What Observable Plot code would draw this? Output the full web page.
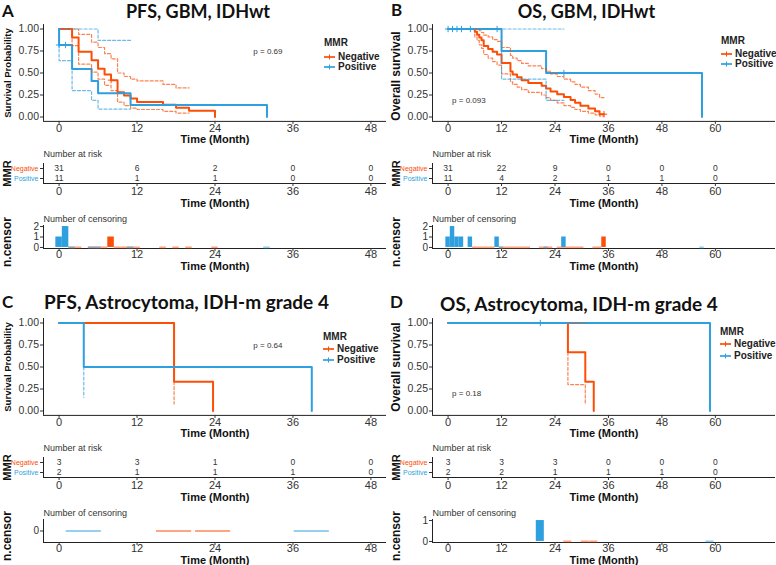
<!DOCTYPE html>
<html><head><meta charset="utf-8">
<script src="https://cdn.jsdelivr.net/npm/d3@7"></script>
<script src="https://cdn.jsdelivr.net/npm/@observablehq/plot@0.6"></script>
<style>
body{margin:0;background:#fff;}
#root{position:relative;width:776px;height:565px;overflow:hidden;background:#fff;font-family:"Liberation Sans",Arial,sans-serif;}
#root svg{position:absolute;overflow:visible;}
</style></head>
<body><div id="root"></div>
<script>
// ---------------- DATA ----------------
const groups = ["Negative", "Positive"];
const groupColors = ["#FC4E07", "#2E9FDF"];
const panelLetters = ["A", "B", "C", "D"];
const panelTitles = ["PFS, GBM, IDHwt", "OS, GBM, IDHwt", "PFS, Astrocytoma, IDH-m grade 4", "OS, Astrocytoma, IDH-m grade 4"];
const yAxisTitles = ["Survival Probability", "Overall survival", "Survival Probability", "Overall survival"];
const pValueLabels = ["p = 0.69", "p = 0.093", "p = 0.64", "p = 0.18"];
const legendTitle = "MMR";
const xAxisTitle = "Time (Month)";
const riskTitle = "Number at risk";
const censorTitle = "Number of censoring";
const censorAxisTitle = "n.censor";
const survTicks = [0, 0.25, 0.5, 0.75, 1];

const timeLimitsPFS = [0, 48];
const timeLimitsOS = [0, 70];
const timeTicksPFS = [0, 12, 24, 36, 48];
const timeTicksOS = [0, 12, 24, 36, 48, 60];

// Panel A: PFS, GBM, IDHwt
const survA_neg_time = [0, 2, 3, 5, 6, 7, 8, 9, 10, 11, 12, 16, 18, 20, 24];
const survA_neg_surv = [1, 0.903, 0.742, 0.645, 0.548, 0.484, 0.419, 0.28, 0.245, 0.21, 0.17, 0.14, 0.105, 0.07, 0];
const survA_neg_upper_time = [2, 3, 5, 6, 7, 8, 9, 10, 11, 12, 16, 18, 20];
const survA_neg_upper = [1, 0.94, 0.85, 0.79, 0.72, 0.66, 0.50, 0.46, 0.43, 0.41, 0.37, 0.33, 0.33];
const survA_neg_lower_time = [2, 2, 3, 5, 6, 7, 8, 9, 10, 11, 12, 16, 18, 20];
const survA_neg_lower = [1, 0.81, 0.60, 0.51, 0.43, 0.36, 0.30, 0.17, 0.13, 0.10, 0.085, 0.065, 0.045, 0.045];
const survA_pos_time = [0, 0, 2, 5, 6, 11, 32];
const survA_pos_surv = [1, 0.818, 0.545, 0.41, 0.27, 0.136, 0];
const survA_pos_upper_time = [0, 6, 11];
const survA_pos_upper = [1, 0.87, 0.87];
const survA_pos_lower_time = [0, 0, 2, 5, 6, 11];
const survA_pos_lower = [1, 0.64, 0.30, 0.19, 0.09, 0.09];
const riskA_time = [0, 12, 24, 36, 48];
const riskA_neg = [31, 6, 2, 0, 0];
const riskA_pos = [11, 1, 1, 0, 0];
const censorA_neg_time = [2, 3, 5, 6, 7, 8, 9, 10, 11, 12, 16, 18, 20, 24];
const censorA_neg_n = [0, 0, 0, 0, 0, 1, 0, 0, 0, 0, 0, 0, 0, 0];
const censorA_pos_time = [0, 1, 2, 5, 6, 11, 32];
const censorA_pos_n = [1, 2, 0, 0, 0, 0, 0];

// Panel B: OS, GBM, IDHwt
const survB_neg_time = [0, 6, 6.5, 7, 7.5, 8, 9, 10, 11, 12, 14, 14.5, 15.5, 16.5, 18, 21, 22, 23, 24.5, 26, 27.5, 28.5, 29.7, 31.5, 33, 34, 35];
const survB_neg_surv = [1, 0.968, 0.935, 0.903, 0.871, 0.806, 0.774, 0.742, 0.71, 0.613, 0.516, 0.484, 0.452, 0.419, 0.387, 0.355, 0.323, 0.29, 0.258, 0.226, 0.194, 0.161, 0.129, 0.097, 0.065, 0.032, 0.032];
const survB_neg_upper_time = [6, 6.5, 7, 7.5, 8, 9, 10, 11, 12, 14, 14.5, 15.5, 16.5, 18, 21, 22, 23, 24.5, 26, 27.5, 28.5, 29.7, 31.5, 33, 34, 35];
const survB_neg_upper = [1, 1, 0.98, 0.96, 0.93, 0.91, 0.88, 0.86, 0.79, 0.70, 0.67, 0.64, 0.61, 0.58, 0.55, 0.52, 0.49, 0.46, 0.43, 0.40, 0.37, 0.34, 0.30, 0.26, 0.22, 0.22];
const survB_neg_lower_time = [6, 6, 6.5, 7, 7.5, 8, 9, 10, 11, 12, 14, 14.5, 15.5, 16.5, 18, 21, 22, 23, 24.5, 26, 27.5, 28.5, 29.7, 31.5, 33, 34, 35];
const survB_neg_lower = [1, 0.91, 0.87, 0.82, 0.78, 0.71, 0.67, 0.63, 0.59, 0.49, 0.40, 0.37, 0.34, 0.31, 0.28, 0.25, 0.22, 0.19, 0.16, 0.13, 0.11, 0.085, 0.065, 0.045, 0.025, 0.01, 0.01];
const survB_pos_time = [0, 12, 22, 57];
const survB_pos_surv = [1, 0.75, 0.5, 0];
const survB_pos_upper_time = [0, 26];
const survB_pos_upper = [1, 1];
const survB_pos_lower_time = [0, 12, 22, 26];
const survB_pos_lower = [1, 0.43, 0.19, 0.19];
const riskB_time = [0, 12, 24, 36, 48, 60];
const riskB_neg = [31, 22, 9, 0, 0, 0];
const riskB_pos = [11, 4, 2, 1, 1, 0];
const censorB_neg_time = [6, 7, 8, 9, 10, 12, 13, 14, 15, 16, 17, 18, 21, 22, 23, 25, 26, 27, 28, 29, 30, 33, 34, 35];
const censorB_neg_n = [0, 0, 0, 0, 0, 0, 0, 0, 0, 0, 0, 0, 0, 0, 0, 0, 0, 0, 0, 0, 0, 0, 0, 1];
const censorB_pos_time = [0, 1, 2, 3, 5, 11, 12, 22, 26, 57];
const censorB_pos_n = [1, 2, 1, 1, 1, 1, 0, 0, 1, 0];

// Panel C: PFS, Astrocytoma, IDH-m grade 4
const survC_neg_time = [0, 17.7, 23.7];
const survC_neg_surv = [1, 0.333, 0];
const survC_neg_upper_time = [];
const survC_neg_upper = [];
const survC_neg_lower_time = [17.7, 17.7];
const survC_neg_lower = [0.333, 0.08];
const survC_pos_time = [0, 3.8, 38.9];
const survC_pos_surv = [1, 0.5, 0];
const survC_pos_upper_time = [];
const survC_pos_upper = [];
const survC_pos_lower_time = [3.8, 3.8];
const survC_pos_lower = [0.5, 0.155];
const riskC_time = [0, 12, 24, 36, 48];
const riskC_neg = [3, 3, 1, 0, 0];
const riskC_pos = [2, 1, 1, 1, 0];
const censorC_neg_time = [17.7, 23.7];
const censorC_neg_n = [0, 0];
const censorC_pos_time = [3.8, 38.9];
const censorC_pos_n = [0, 0];

// Panel D: OS, Astrocytoma, IDH-m grade 4
const survD_neg_time = [0, 26.9, 30.8, 32.7];
const survD_neg_surv = [1, 0.667, 0.333, 0];
const survD_neg_upper_time = [26.9, 30.8];
const survD_neg_upper = [1, 1];
const survD_neg_lower_time = [26.9, 26.9, 30.8, 30.8];
const survD_neg_lower = [0.667, 0.30, 0.30, 0.07];
const survD_pos_time = [0, 58.8];
const survD_pos_surv = [1, 0];
const survD_pos_upper_time = [];
const survD_pos_upper = [];
const survD_pos_lower_time = [];
const survD_pos_lower = [];
const riskD_time = [0, 12, 24, 36, 48, 60];
const riskD_neg = [3, 3, 3, 0, 0, 0];
const riskD_pos = [2, 2, 1, 1, 1, 0];
const censorD_neg_time = [26.9, 30.8, 32.7];
const censorD_neg_n = [0, 0, 0];
const censorD_pos_time = [20.7, 58.8];
const censorD_pos_n = [1, 0];

// ---------------- LAYOUT ----------------
const FONT = '"Liberation Sans", Arial, sans-serif';
const panels = [
  {i: 0, ox: 0, oy: 0, limits: timeLimitsPFS, ticks: timeTicksPFS,
   neg: {time: survA_neg_time, surv: survA_neg_surv, ut: survA_neg_upper_time, u: survA_neg_upper, lt: survA_neg_lower_time, l: survA_neg_lower, ct: censorA_neg_time, cn: censorA_neg_n, risk: riskA_neg},
   pos: {time: survA_pos_time, surv: survA_pos_surv, ut: survA_pos_upper_time, u: survA_pos_upper, lt: survA_pos_lower_time, l: survA_pos_lower, ct: censorA_pos_time, cn: censorA_pos_n, risk: riskA_pos},
   riskTime: riskA_time, cDomain: [-0.1, 2.1], cTicks: [0, 1, 2], barW: 1,
   pAt: [29.9, 0.74], title: {x: 198, y: 10.5, size: 18}, letter: {x: 8, y: 9.5},
   legend: {x: 324, y: [43, 56.5, 67]}, yTitleSize: 9.6, yTitleDy: 0},
  {i: 1, ox: 389, oy: 0, limits: timeLimitsOS, ticks: timeTicksOS,
   neg: {time: survB_neg_time, surv: survB_neg_surv, ut: survB_neg_upper_time, u: survB_neg_upper, lt: survB_neg_lower_time, l: survB_neg_lower, ct: censorB_neg_time, cn: censorB_neg_n, risk: riskB_neg},
   pos: {time: survB_pos_time, surv: survB_pos_surv, ut: survB_pos_upper_time, u: survB_pos_upper, lt: survB_pos_lower_time, l: survB_pos_lower, ct: censorB_pos_time, cn: censorB_pos_n, risk: riskB_pos},
   riskTime: riskB_time, cDomain: [-0.1, 2.1], cTicks: [0, 1, 2], barW: 1,
   pAt: [0.9, 0.19], title: {x: 197.5, y: 11, size: 18}, letter: {x: 7.5, y: 9},
   legend: {x: 332, y: [40.5, 53.5, 64]}, yTitleSize: 12, yTitleDy: 3},
  {i: 2, ox: 0, oy: 294, limits: timeLimitsPFS, ticks: timeTicksPFS,
   neg: {time: survC_neg_time, surv: survC_neg_surv, ut: survC_neg_upper_time, u: survC_neg_upper, lt: survC_neg_lower_time, l: survC_neg_lower, ct: censorC_neg_time, cn: censorC_neg_n, risk: riskC_neg},
   pos: {time: survC_pos_time, surv: survC_pos_surv, ut: survC_pos_upper_time, u: survC_pos_upper, lt: survC_pos_lower_time, l: survC_pos_lower, ct: censorC_pos_time, cn: censorC_pos_n, risk: riskC_pos},
   riskTime: riskC_time, cDomain: [-1, 1], cTicks: [0], barW: 5.4,
   pAt: [29.9, 0.74], title: {x: 186.5, y: 6.5, size: 19}, letter: {x: 7.5, y: 7},
   legend: {x: 323, y: [43, 55, 65.5]}, yTitleSize: 9.6, yTitleDy: 0},
  {i: 3, ox: 389, oy: 294, limits: timeLimitsOS, ticks: timeTicksOS,
   neg: {time: survD_neg_time, surv: survD_neg_surv, ut: survD_neg_upper_time, u: survD_neg_upper, lt: survD_neg_lower_time, l: survD_neg_lower, ct: censorD_neg_time, cn: censorD_neg_n, risk: riskD_neg},
   pos: {time: survD_pos_time, surv: survD_pos_surv, ut: survD_pos_upper_time, u: survD_pos_upper, lt: survD_pos_lower_time, l: survD_pos_lower, ct: censorD_pos_time, cn: censorD_pos_n, risk: riskD_pos},
   riskTime: riskD_time, cDomain: [-0.05, 1.05], cTicks: [0, 1], barW: 1.8,
   pAt: [0.9, 0.2], title: {x: 190, y: 8.5, size: 19}, letter: {x: 7.5, y: 7},
   legend: {x: 331, y: [38, 49.5, 62]}, yTitleSize: 12, yTitleDy: 0}
];

const root = document.getElementById("root");
const baseStyle = {fontFamily: FONT, fontSize: "10.5px", color: "#333", background: "transparent", overflow: "visible"};
const colorScale = {domain: groups, range: groupColors};

function expand([lo, hi]) { const e = (hi - lo) * 0.05; return [lo - e, hi + e]; }
function rows(times, vals, g, key) { return times.map((t, i) => ({t, v: vals[i], g, key})); }
function stepValue(times, surv, x) { let v = surv[0]; times.forEach((t, i) => { if (t <= x) v = surv[i]; }); return v; }
function put(svg, x, y) { svg.style.left = x + "px"; svg.style.top = y + "px"; root.appendChild(svg); }
function html(text, x, y, css, center) {
  const d = document.createElement("div");
  d.textContent = text;
  d.style.cssText = `position:absolute;white-space:nowrap;line-height:1;left:${x}px;top:${y}px;transform:translate(${center ? "-50%" : "0"},-50%);` + css;
  root.appendChild(d);
  return d;
}
function axisLines(xd, yd) {
  return [Plot.ruleX([xd[0]], {stroke: "#222", strokeWidth: 1}), Plot.ruleY([yd[0]], {stroke: "#222", strokeWidth: 1})];
}
function yTitle(text, size, dy) {
  return Plot.text([text], {frameAnchor: "left", textAnchor: "middle", lineAnchor: "middle", rotate: -90, dx: -36, dy, fontWeight: "bold", fontSize: size, fill: "#111"});
}
function xTitle(dy) {
  return Plot.text([xAxisTitle], {frameAnchor: "bottom", textAnchor: "middle", lineAnchor: "middle", dy, fontWeight: "bold", fontSize: 11, fill: "#111"});
}
function cornerTitle(text, dy) {
  return Plot.text([text], {frameAnchor: "top-left", textAnchor: "start", lineAnchor: "middle", dy, fontSize: 9, fill: "#333"});
}

function survivalChart(p) {
  const xd = expand(p.limits), yd = [-0.05, 1.05];
  const solid = [...rows(p.neg.time, p.neg.surv, "Negative", "n"), ...rows(p.pos.time, p.pos.surv, "Positive", "p")];
  const ci = [...rows(p.neg.ut, p.neg.u, "Negative", "nu"), ...rows(p.neg.lt, p.neg.l, "Negative", "nl"),
              ...rows(p.pos.ut, p.pos.u, "Positive", "pu"), ...rows(p.pos.lt, p.pos.l, "Positive", "pl")];
  const cens = [];
  [["Negative", p.neg], ["Positive", p.pos]].forEach(([g, s]) => {
    s.ct.forEach((t, i) => { if (s.cn[i] > 0) cens.push({t, v: stepValue(s.time, s.surv, t), g}); });
  });
  return Plot.plot({
    width: 388, height: 145, marginLeft: 43, marginRight: 2, marginTop: 24.1, marginBottom: 24.1,
    x: {domain: xd}, y: {domain: yd}, color: colorScale, style: baseStyle,
    marks: [
      ...axisLines(xd, yd),
      Plot.axisX({ticks: p.ticks, tickSize: 3, tickPadding: -0.5, label: null, fontSize: 11}),
      Plot.axisY({ticks: survTicks, tickFormat: d3.format(".2f"), tickSize: 3, tickPadding: 1.5, label: null, fontSize: 10.5}),
      Plot.line(solid, {x: "t", y: "v", z: "key", stroke: "g", curve: "step-after", strokeWidth: 2}),
      Plot.line(ci, {x: "t", y: "v", z: "key", stroke: "g", curve: "step-after", strokeWidth: 1.2, strokeDasharray: "3,2", strokeOpacity: 0.7}),
      Plot.dot(cens, {x: "t", y: "v", stroke: "g", symbol: "plus", r: 2.2, strokeWidth: 1}),
      Plot.text([pValueLabels[p.i]], {x: () => p.pAt[0], y: () => p.pAt[1], textAnchor: "start", fontSize: 8, fill: "#333"}),
      yTitle(yAxisTitles[p.i], p.yTitleSize, p.yTitleDy),
      xTitle(18)
    ]
  });
}

function riskChart(p) {
  const xd = expand(p.limits), yd = [0, 2];
  const rowY = {Negative: 1.5, Positive: 0.5};
  const data = [...p.riskTime.map((t, i) => ({t, g: "Negative", n: p.neg.risk[i]})),
                ...p.riskTime.map((t, i) => ({t, g: "Positive", n: p.pos.risk[i]}))];
  return Plot.plot({
    width: 388, height: 65, marginLeft: 43, marginRight: 2, marginTop: 18, marginBottom: 27,
    x: {domain: xd}, y: {domain: yd}, color: colorScale, style: baseStyle,
    marks: [
      ...axisLines(xd, yd),
      Plot.axisX({ticks: p.ticks, tickSize: 3, tickPadding: 1, label: null, fontSize: 11}),
      Plot.axisY({ticks: groups.map(g => rowY[g]), tickFormat: () => "", tickSize: 3, label: null}),
      Plot.text(groups, {y: g => rowY[g], frameAnchor: "left", dx: -5, textAnchor: "end", lineAnchor: "middle", fill: g => g, fontSize: 7}),
      Plot.text(data, {x: "t", y: d => rowY[d.g], text: d => String(d.n), fontSize: 8.5, fill: "#333"}),
      cornerTitle(riskTitle, -9),
      yTitle(legendTitle, 11, 0),
      xTitle(20)
    ]
  });
}

function censorChart(p) {
  const xd = expand(p.limits), yd = p.cDomain, w = p.barW;
  const data = [...p.neg.ct.map((t, i) => ({t, n: p.neg.cn[i], g: "Negative"})),
                ...p.pos.ct.map((t, i) => ({t, n: p.pos.cn[i], g: "Positive"}))];
  return Plot.plot({
    width: 388, height: 60, marginLeft: 43, marginRight: 2, marginTop: 15, marginBottom: 22,
    x: {domain: xd}, y: {domain: yd}, color: colorScale, style: baseStyle,
    marks: [
      ...axisLines(xd, yd),
      Plot.axisX({ticks: p.ticks, tickSize: 3, tickPadding: -1.5, label: null, fontSize: 11}),
      Plot.axisY({ticks: p.cTicks, tickFormat: d3.format("d"), tickSize: 3, tickPadding: 1.5, label: null, fontSize: 10}),
      Plot.ruleY(data.filter(d => d.n === 0), {y: () => 0, x1: d => d.t - w / 2, x2: d => d.t + w / 2, stroke: "g", strokeWidth: 2, strokeOpacity: 0.5}),
      Plot.rect(data.filter(d => d.n > 0), {x1: d => d.t - w / 2, x2: d => d.t + w / 2, y1: () => 0, y2: "n", fill: "g"}),
      cornerTitle(censorTitle, -6),
      yTitle(censorAxisTitle, 12, 5),
      xTitle(17.5)
    ]
  });
}

function legendKey(color) {
  return `<svg width="11" height="8" style="position:static;vertical-align:middle;margin-right:3px"><line x1="0" y1="4" x2="11" y2="4" stroke="${color}" stroke-width="1.7"/><line x1="5.5" y1="1.5" x2="5.5" y2="6.5" stroke="${color}" stroke-width="1"/></svg>`;
}

panels.forEach(p => {
  put(survivalChart(p), p.ox, p.oy);
  put(riskChart(p), p.ox, p.oy + 145);
  put(censorChart(p), p.ox, p.oy + 210);
  html(panelLetters[p.i], p.ox + p.letter.x, p.oy + p.letter.y, "font-family:Lato,sans-serif;font-weight:700;font-size:17px;color:#111;", true);
  html(panelTitles[p.i], p.ox + p.title.x, p.oy + p.title.y, `font-family:Lato,sans-serif;font-weight:700;font-size:${p.title.size}px;color:#111;`, true);
  html(legendTitle, p.ox + p.legend.x, p.oy + p.legend.y[0], `font-family:${FONT};font-weight:bold;font-size:10px;color:#222;`, false);
  groups.forEach((g, k) => {
    const d = html("", p.ox + p.legend.x, p.oy + p.legend.y[k + 1], `font-family:${FONT};font-weight:bold;font-size:10px;color:#222;display:flex;align-items:center;`, false);
    d.innerHTML = legendKey(groupColors[k]) + "<span>" + g + "</span>";
  });
});
</script></body></html>
